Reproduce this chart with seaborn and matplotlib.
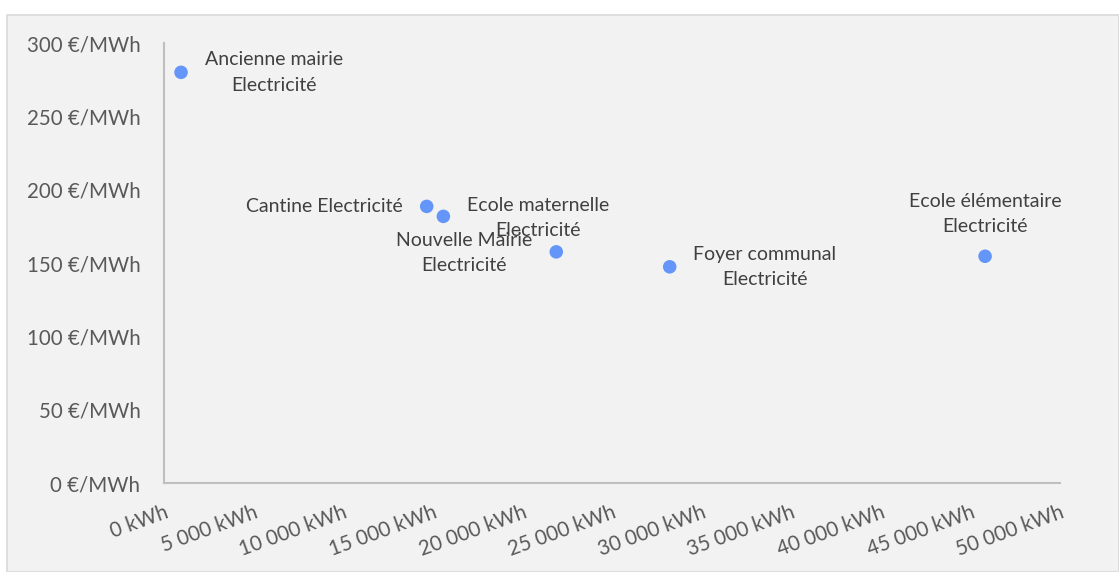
import matplotlib
matplotlib.use("Agg")
import matplotlib.pyplot as plt
from matplotlib.patches import Rectangle
from matplotlib.ticker import FuncFormatter, MultipleLocator
import pandas as pd
import seaborn as sns

# Consumption vs unit cost per building (electricity)
sites = ["Ancienne mairie\nElectricité", "Cantine Electricité",
         "Nouvelle Mairie\nElectricité", "Ecole maternelle\nElectricité",
         "Foyer communal\nElectricité", "Ecole élémentaire\nElectricité"]
consumption_kwh = [950, 14660, 15590, 21890, 28220, 45820]
cost_eur_mwh = [280, 188.6, 181.8, 157.6, 147.4, 154.6]

df = pd.DataFrame({"site": sites, "kwh": consumption_kwh, "cost": cost_eur_mwh})

sns.set_theme(style="white")
plt.rcParams["font.family"] = ["Lato", "DejaVu Sans"]

W, H = 1119, 572
fig = plt.figure(figsize=(W / 100, H / 100), dpi=100)
fig.patch.set_facecolor("white")
fig.patches.append(Rectangle((6.5 / W, 0), 1 - 6.5 / W, 1 - 14.5 / H,
                             transform=fig.transFigure, facecolor="#f2f2f2",
                             edgecolor="#d9d9d9", linewidth=1.2, zorder=-10))

ax = fig.add_axes([164 / W, (H - 483) / H, (1060 - 164) / W, (483 - 43) / H])
ax.set_facecolor("none")

sns.scatterplot(data=df, x="kwh", y="cost", ax=ax, s=95, color="#6495f9",
                edgecolor="none", zorder=3)

ax.set_xlim(0, 50000)
ax.set_ylim(0, 300)
ax.xaxis.set_major_locator(MultipleLocator(5000))
ax.yaxis.set_major_locator(MultipleLocator(50))
ax.xaxis.set_major_formatter(FuncFormatter(lambda v, p: f"{int(v):,} kWh".replace(",", " ")))
ax.yaxis.set_major_formatter(FuncFormatter(lambda v, p: f"{int(v)} €/MWh"))

for side in ["top", "right"]:
    ax.spines[side].set_visible(False)
for side in ["left", "bottom"]:
    ax.spines[side].set_color("#bfbfbf")
    ax.spines[side].set_linewidth(1.5)

ax.tick_params(axis="both", length=0, labelsize=14.8, colors="#595959")
ax.tick_params(axis="y", pad=17)
ax.tick_params(axis="x", pad=14)
for lbl in ax.get_xticklabels():
    lbl.set_rotation(20)
    lbl.set_ha("right")
    lbl.set_rotation_mode("anchor")
ax.set_xlabel("")
ax.set_ylabel("")

# data labels: (dx, dy) offsets in points, alignment
placements = [
    ((17, 0), "left", "center"),
    ((-17, 0), "right", "center"),
    ((15, -11), "center", "top"),
    ((-13, 9), "center", "bottom"),
    ((17, 0), "left", "center"),
    ((0, 15), "center", "bottom"),
]
for (name, x, y), ((dx, dy), ha, va) in zip(zip(sites, consumption_kwh, cost_eur_mwh), placements):
    ax.annotate(name, (x, y), xytext=(dx, dy), textcoords="offset points",
                ha=ha, va=va, multialignment="center", fontsize=14, color="#404040",
                linespacing=1.6)

fig.savefig("out.png", dpi=100)
